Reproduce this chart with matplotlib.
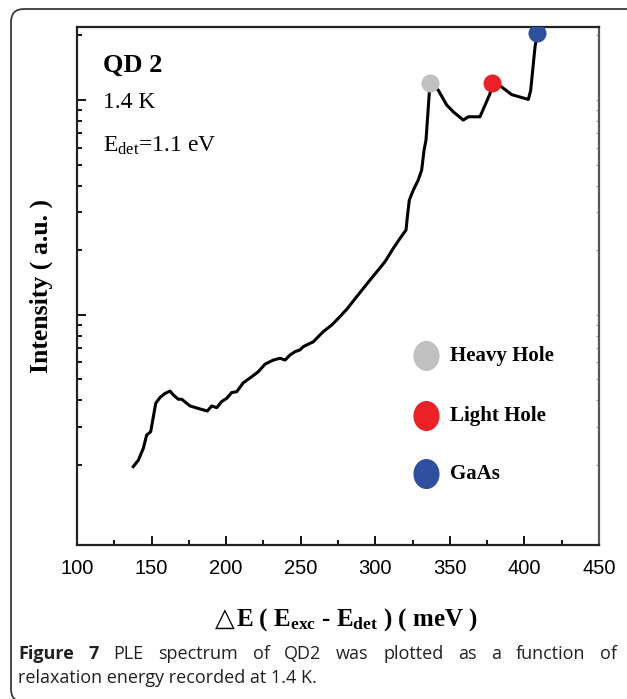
import numpy as np
import matplotlib
matplotlib.use("Agg")
import matplotlib.pyplot as plt
from matplotlib.patches import Ellipse, FancyBboxPatch
from matplotlib.ticker import FixedLocator, MultipleLocator, NullFormatter

plt.rcParams['mathtext.fontset'] = 'custom'
plt.rcParams['mathtext.rm'] = 'Liberation Serif'
plt.rcParams['mathtext.bf'] = 'Liberation Serif:bold'
plt.rcParams['mathtext.it'] = 'Liberation Serif:italic'

# PLE spectrum, relaxation energy (meV) vs intensity (a.u.)
energy = [137.7, 141.1, 144.5, 146.7, 149.4, 151.2, 152.8, 155.7, 159.0, 162.4,
          164.6, 167.9, 170.2, 175.8, 181.3, 187.4, 190.3, 193.7, 197.0, 200.4,
          203.7, 207.1, 211.5, 217.1, 221.6, 226.1, 231.6, 236.1, 239.5, 242.8,
          246.2, 249.5, 251.7, 258.4, 265.1, 270.8, 275.2, 280.8, 287.5, 296.5,
          301.0, 306.5, 312.1, 316.6, 320.6, 321.5, 322.8, 325.5, 328.8, 331.1,
          332.7, 334.0, 336.7, 342.3, 347.9, 352.3, 359.0, 362.4, 370.2, 376.9,
          378.3, 384.8, 391.5, 402.6, 404.2, 407.1, 408.6]
intensity = [0.196, 0.210, 0.239, 0.275, 0.285, 0.335, 0.387, 0.412, 0.430, 0.441,
             0.423, 0.404, 0.404, 0.376, 0.366, 0.356, 0.376, 0.369, 0.394, 0.408,
             0.434, 0.438, 0.482, 0.514, 0.543, 0.589, 0.615, 0.627, 0.615, 0.649,
             0.673, 0.686, 0.710, 0.748, 0.834, 0.896, 0.962, 1.059, 1.213, 1.452,
             1.585, 1.766, 2.04, 2.27, 2.48, 2.86, 3.42, 3.81, 4.24, 4.72,
             5.85, 6.51, 12.05, 11.1, 9.48, 8.82, 8.07, 8.36, 8.36, 10.7,
             12.05, 11.5, 10.6, 10.07, 11.1, 17.7, 20.5]

peak_names = ['Heavy Hole', 'Light Hole', 'GaAs']
peak_energy = [336.7, 378.3, 408.6]
peak_intensity = [12.05, 12.05, 20.5]
peak_colors = ['#c0c0c0', '#ec2127', '#2f4f9f']

caption_lines = ['Figure 7 PLE spectrum of QD2 was plotted as a function of',
                 'relaxation energy recorded at 1.4 K.']

fig = plt.figure(figsize=(6.27, 6.99), dpi=100)

# rounded frame around figure + caption
frame = FancyBboxPatch((0.11, -0.03), 6.6, 6.93,
                       boxstyle="round,pad=0,rounding_size=0.13",
                       transform=fig.dpi_scale_trans, fill=False,
                       edgecolor='#3a3a3a', lw=1.3, clip_on=False)
fig.patches.append(frame)

ax = fig.add_axes([77/627, 1 - 545/699, 522/627, 518/699])
ax.semilogy(energy, intensity, color='black', lw=2.2, solid_joinstyle='round')
for x, y, c in zip(peak_energy, peak_intensity, peak_colors):
    ax.plot(x, y, 'o', ms=13, color=c, mec='none', zorder=5)

ax.set_xlim(100, 450)
ax.set_ylim(0.0846, 21.9)

ax.xaxis.set_major_locator(MultipleLocator(50))
ax.xaxis.set_minor_locator(MultipleLocator(25))
ax.yaxis.set_major_locator(FixedLocator([1, 10]))
ax.yaxis.set_minor_locator(FixedLocator([0.2, 0.3, 0.4, 0.5, 0.6, 0.7, 0.8, 0.9,
                                         2, 3, 4, 5, 6, 7, 8, 9, 20]))
ax.yaxis.set_major_formatter(NullFormatter())
ax.yaxis.set_minor_formatter(NullFormatter())

ax.tick_params(which='both', direction='in', top=False, right=False, width=1.3)
ax.tick_params(which='major', length=6.5)
ax.tick_params(which='minor', length=3.8)
ax.tick_params(axis='x', which='major', pad=10, labelsize=14.5)
for lab in ax.get_xticklabels():
    lab.set_family('Liberation Sans')

for side in ['left', 'bottom', 'top']:
    ax.spines[side].set_linewidth(1.6)
    ax.spines[side].set_color('#222222')
ax.spines['right'].set_linewidth(1.6)
ax.spines['right'].set_color('#555555')

# faint ticks on right side
sec = ax.secondary_yaxis('right')
sec.yaxis.set_major_locator(FixedLocator([1, 10]))
sec.yaxis.set_minor_locator(FixedLocator([0.2, 0.3, 0.4, 0.5, 0.6, 0.7, 0.8, 0.9,
                                          2, 3, 4, 5, 6, 7, 8, 9, 20]))
sec.yaxis.set_major_formatter(NullFormatter())
sec.yaxis.set_minor_formatter(NullFormatter())
sec.tick_params(which='both', direction='in', length=2.5, color='#999999', width=0.8)
sec.spines['right'].set_visible(False)

serif = ['Liberation Serif', 'DejaVu Sans']

# x label: thin triangle glyph + bold serif rest
fig.text(215/627, 1 - 626/699, '△', family='DejaVu Sans', fontsize=18.5,
         va='baseline', ha='left')
fig.text(236/627, 1 - 626/699,
         'E ( E$_{\\mathbf{exc}}$ - E$_{\\mathbf{det}}$ ) ( meV )',
         family=serif, fontweight='bold', fontsize=18, va='baseline', ha='left')
ax.set_ylabel('Intensity ( a.u. )', family=serif, fontweight='bold',
              fontsize=18.5, labelpad=14)

ax.text(103/627, 1 - 65/699, 'QD 2', transform=fig.transFigure, family=serif,
        fontweight='bold', fontsize=19, va='center', ha='left')
ax.text(103/627, 1 - 103/699, '1.4 K', transform=fig.transFigure, family=serif,
        fontsize=17, va='center', ha='left')
ax.text(103/627, 1 - 146/699, 'E$_{\\rm det}$=1.1 eV', transform=fig.transFigure,
        family=serif, fontsize=17, va='center', ha='left')

# legend for the peak markers
leg_y = [0.365, 0.249, 0.137]
for name, c, yy in zip(peak_names, peak_colors, leg_y):
    ax.add_patch(Ellipse((0.6695, yy), 0.05, 0.058, transform=ax.transAxes,
                         facecolor=c, edgecolor='none'))
    ax.text(0.7146, yy, name, transform=ax.transAxes, family=serif,
            fontweight='bold', fontsize=15, va='center', ha='left')

# caption, first line justified word by word
cap = ['Open Sans', 'DejaVu Sans']
cap_size = 13
cap_color = '#231f20'
r = fig.canvas.get_renderer()
x_left, x_right = 18, 617
words = caption_lines[0].split()
arts = []
for i, w in enumerate(words):
    wt = 'bold' if i < 2 else 'normal'
    arts.append(fig.text(0, 1 - 654/699, w, family=cap, fontweight=wt,
                         fontsize=cap_size, va='center', color=cap_color))
widths = [a.get_window_extent(renderer=r).width for a in arts]
gap = (x_right - x_left - sum(widths)) / (len(words) - 1)
xpos = x_left
for a, w in zip(arts, widths):
    a.set_x(xpos / 627)
    xpos += w + gap
fig.text(x_left/627, 1 - 678/699, caption_lines[1], family=cap,
         fontsize=cap_size, va='center', color=cap_color)

fig.savefig('out.png', dpi=100)
